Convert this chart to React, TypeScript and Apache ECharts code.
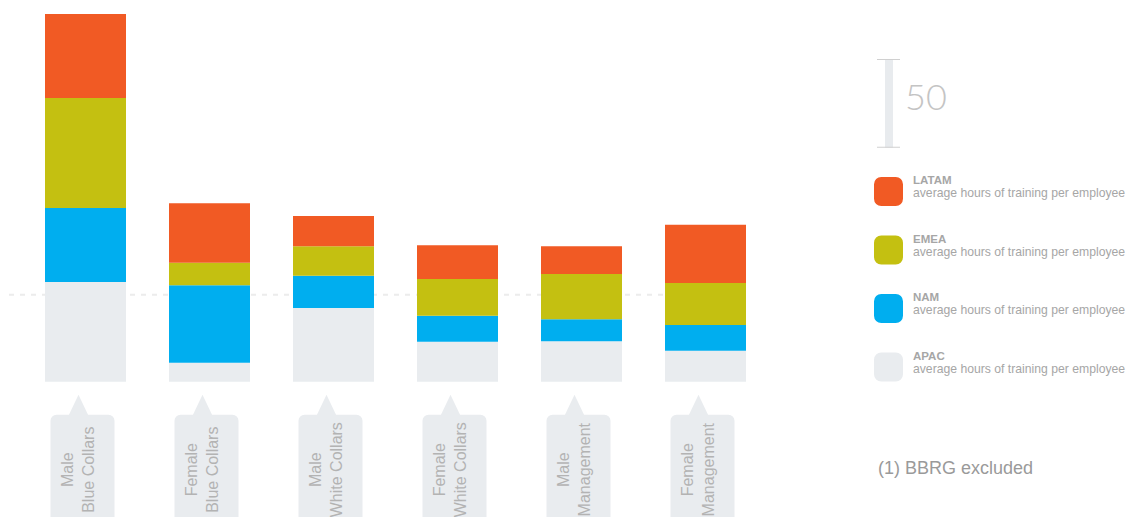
import React, { useEffect, useRef } from "react";
import * as echarts from "echarts";

const categories = [
  "Male\nBlue Collars",
  "Female\nBlue Collars",
  "Male\nWhite Collars",
  "Female\nWhite Collars",
  "Male\nManagement",
  "Female\nManagement",
];
const apac = [56.2, 10.7, 41.5, 22.5, 22.8, 17.5];
const nam = [41.7, 43.6, 18.2, 14.6, 12.4, 14.4];
const emea = [62.0, 12.7, 16.6, 20.8, 25.5, 23.7];
const latam = [47.3, 33.6, 17.1, 19.0, 15.6, 32.9];
const averageLine = 49;
const scaleValue = 50;
const legendNames = ["LATAM", "EMEA", "NAM", "APAC"];
const legendSubtitle = "average hours of training per employee";
const footnote = "(1) BBRG excluded";

const COLORS: Record<string, string> = {
  LATAM: "#F15A24",
  EMEA: "#C4C011",
  NAM: "#00AEEF",
  APAC: "#E9ECEF",
};
const FONT = "Liberation Sans, Arial, Helvetica, sans-serif";

export default function App() {
  const ref = useRef<HTMLDivElement>(null);
  useEffect(() => {
    if (!ref.current) return;
    const chart = echarts.init(ref.current, undefined, { renderer: "svg" });
    const barBase = {
      type: "bar",
      stack: "total",
      barWidth: 81,
      xAxisIndex: 0,
      yAxisIndex: 0,
      z: 2,
    };
    const option: any = {
      animation: false,
      textStyle: { fontFamily: FONT },
      grid: [
        { left: 23.5, top: 9, width: 744, bottom: 135.3, containLabel: false },
        { left: 9, top: 9, width: 737, bottom: 135.3, containLabel: false },
      ],
      xAxis: [
        { type: "category", gridIndex: 0, data: categories, show: false, boundaryGap: true },
        { type: "value", gridIndex: 1, min: 0, max: 1, show: false },
      ],
      yAxis: [
        { type: "value", gridIndex: 0, min: 0, max: 210, show: false },
        { type: "value", gridIndex: 1, min: 0, max: 210, show: false },
      ],
      legend: {
        orient: "vertical",
        left: 874,
        top: 174,
        padding: 0,
        itemWidth: 29,
        itemHeight: 29,
        itemGap: 26.5,
        icon: "roundRect",
        selectedMode: false,
        data: legendNames,
        formatter: (name: string) => `{a|${name}}\n{b|${legendSubtitle}}`,
        textStyle: {
          padding: [0, 0, 10, 5],
          rich: {
            a: { fontFamily: FONT, fontSize: 11.5, fontWeight: "bold", color: "#a6a6a6", lineHeight: 13 },
            b: { fontFamily: FONT, fontSize: 12.2, color: "#a6a6a6", lineHeight: 13 },
          },
        },
      },
      series: [
        {
          type: "line",
          name: "average",
          xAxisIndex: 1,
          yAxisIndex: 1,
          z: 1,
          silent: true,
          symbol: "none",
          data: [
            [0, averageLine],
            [1, averageLine],
          ],
          lineStyle: { color: "#ececec", width: 2, type: [5, 6] },
        },
        { ...barBase, name: "APAC", data: apac, itemStyle: { color: COLORS.APAC } },
        { ...barBase, name: "NAM", data: nam, itemStyle: { color: COLORS.NAM } },
        { ...barBase, name: "EMEA", data: emea, itemStyle: { color: COLORS.EMEA } },
        { ...barBase, name: "LATAM", data: latam, itemStyle: { color: COLORS.LATAM } },
        {
          type: "custom",
          name: "callouts",
          silent: true,
          clip: false,
          xAxisIndex: 0,
          yAxisIndex: 0,
          data: categories.map((_, i) => [i, 0]),
          renderItem: (params: any, api: any) => {
            const i = api.value(0);
            const p = api.coord([i, 0]);
            const cx = p[0] - 3;
            const by = p[1];
            return {
              type: "group",
              children: [
                {
                  type: "polygon",
                  shape: { points: [[cx - 14, by + 34], [cx - 4, by + 13], [cx + 6, by + 34]] },
                  style: { fill: "#E9ECEF" },
                },
                {
                  type: "rect",
                  shape: { x: cx - 32, y: by + 33, width: 64, height: 160, r: 6 },
                  style: { fill: "#E9ECEF" },
                },
                {
                  type: "text",
                  x: cx - 5,
                  y: by + 88,
                  rotation: Math.PI / 2,
                  style: {
                    text: categories[i],
                    fontFamily: FONT,
                    fontSize: 16,
                    lineHeight: 21,
                    fill: "#b3b3b3",
                    align: "center",
                    verticalAlign: "middle",
                  },
                },
              ],
            };
          },
        },
        {
          type: "custom",
          name: "scale",
          silent: true,
          clip: false,
          xAxisIndex: 0,
          yAxisIndex: 0,
          data: [[0, scaleValue]],
          renderItem: (params: any, api: any) => {
            const h = api.size([0, api.value(1)])[1];
            const x = 889;
            const top = 59;
            return {
              type: "group",
              children: [
                { type: "rect", shape: { x: x - 4, y: top, width: 8, height: h }, style: { fill: "#E8EBEE" } },
                { type: "line", shape: { x1: x - 12, y1: top + 0.5, x2: x + 11, y2: top + 0.5 }, style: { stroke: "#d0d0d0", lineWidth: 1 } },
                { type: "line", shape: { x1: x - 12, y1: top + h - 0.5, x2: x + 11, y2: top + h - 0.5 }, style: { stroke: "#d0d0d0", lineWidth: 1 } },
                {
                  type: "text",
                  x: 905,
                  y: top + h / 2 - 7,
                  style: {
                    text: String(api.value(1)),
                    fontFamily: "Lato, " + FONT,
                    fontWeight: 300,
                    fontSize: 36,
                    fill: "#c4c4c4",
                    align: "left",
                    verticalAlign: "middle",
                  },
                },
              ],
            };
          },
        },
      ],
      graphic: [
        {
          type: "text",
          left: 878,
          top: 459,
          style: { text: footnote, fontFamily: FONT, fontSize: 18, fill: "#9a9a9a" },
        },
      ],
    };
    chart.setOption(option);
    return () => chart.dispose();
  }, []);
  return <div ref={ref} style={{ width: 1131, height: 517, position: "absolute", left: 0, top: 0 }} />;
}
